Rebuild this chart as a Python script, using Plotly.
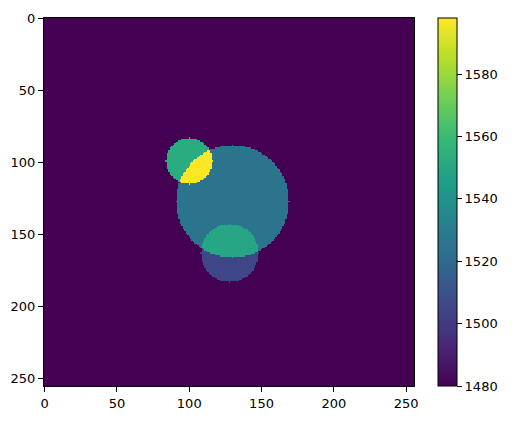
import numpy as np
import plotly.graph_objects as go

# Image geometry (pixel grid) and circle inclusions
grid_size = 256
background_value = 1480
circle_cx = [130, 100, 128]
circle_cy = [127, 99, 163]
circle_r = [39, 16, 20]
circle_add = [45, 73, 25]   # additive contribution of each inclusion

tick_vals = [0, 50, 100, 150, 200, 250]
cbar_ticks = [1480, 1500, 1520, 1540, 1560, 1580]
z_min, z_max = 1480, 1598

yy, xx = np.mgrid[0:grid_size, 0:grid_size]
img = np.full((grid_size, grid_size), float(background_value))
for cx, cy, r, v in zip(circle_cx, circle_cy, circle_r, circle_add):
    img[(xx - cx) ** 2 + (yy - cy) ** 2 <= r ** 2] += v

fig = go.Figure(go.Heatmap(
    z=img, x=np.arange(grid_size), y=np.arange(grid_size),
    colorscale="Viridis", zmin=z_min, zmax=z_max,
    colorbar=dict(
        x=1.065, xanchor="left", y=0.5, yanchor="middle", len=1.0, lenmode="fraction",
        thickness=19, thicknessmode="pixels",
        outlinewidth=1, outlinecolor="black",
        tickvals=cbar_ticks, ticks="outside", ticklen=5, tickcolor="black",
        tickfont=dict(family="DejaVu Sans", size=13, color="black"),
        xpad=0, ypad=0,
    ),
))

axis_common = dict(
    tickvals=tick_vals, ticks="outside", ticklen=5, tickcolor="black",
    showline=True, linecolor="black", linewidth=1, mirror=True,
    showgrid=False, zeroline=False, automargin=False,
    tickfont=dict(family="DejaVu Sans", size=13, color="black"),
)
fig.update_xaxes(range=[-0.5, grid_size - 0.5], **axis_common)
fig.update_yaxes(range=[grid_size - 0.5, -0.5], **axis_common)

fig.update_layout(
    width=520, height=415,
    margin=dict(l=36, r=114, t=10, b=37, pad=0, autoexpand=False),
    paper_bgcolor="white", plot_bgcolor="white",
    font=dict(family="DejaVu Sans", size=13, color="black"),
)
fig.write_html("out.html")
